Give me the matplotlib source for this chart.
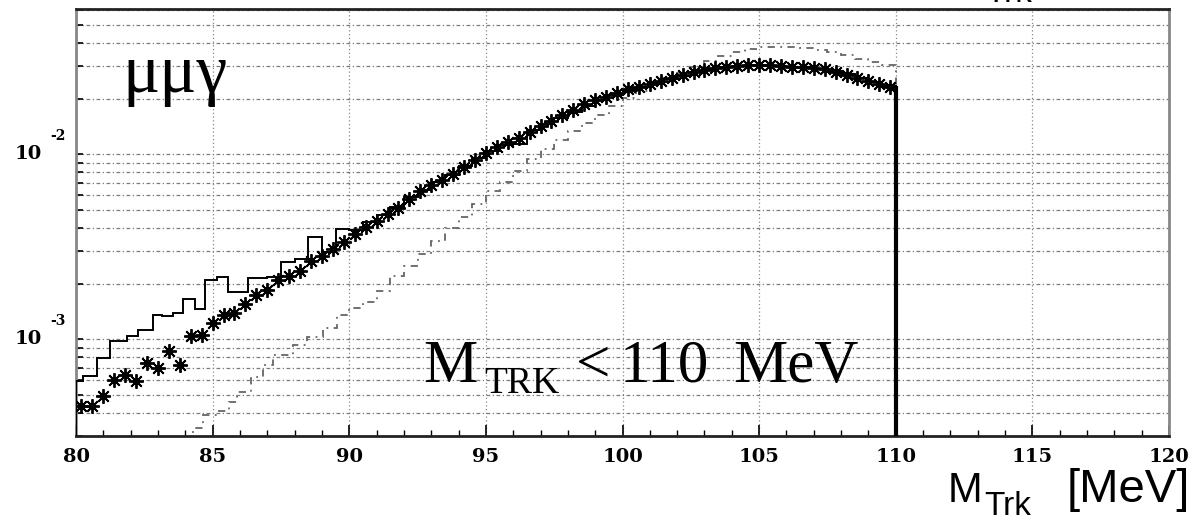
import matplotlib
matplotlib.use("Agg")
import matplotlib.pyplot as plt
import matplotlib.transforms as mtransforms
from matplotlib.ticker import MultipleLocator, NullFormatter, LogLocator
import numpy as np

W, H = 1193, 524

# solid histogram (data)
hist_edges = [80.0, 80.27, 80.76, 81.25, 81.85, 82.28, 82.83, 83.14, 83.56, 83.93,
              84.36, 84.73, 85.16, 85.58, 86.31, 87.0, 87.5, 88.0, 88.5, 89.0,
              89.5, 90.0, 90.5, 91.0, 91.5, 92.0, 92.5, 93.0, 93.5, 94.0,
              94.5, 95.0, 95.5, 96.0, 96.5, 97.0, 97.5, 98.0, 98.5, 99.0,
              99.5, 100.0, 100.5, 101.0, 101.5, 102.0, 102.5, 103.0, 103.5, 104.0,
              104.5, 105.0, 105.5, 106.0, 106.5, 107.0, 107.5, 108.0, 108.5, 109.0,
              109.5, 110.0]
hist_vals = [5.94e-4, 6.32e-4, 7.9e-4, 9.75e-4, 1.04e-3, 1.12e-3, 1.35e-3, 1.33e-3, 1.38e-3,
             1.66e-3, 1.45e-3, 2.08e-3, 2.16e-3, 1.81e-3, 2.15e-3, 2.18e-3, 2.63e-3, 2.72e-3,
             3.58e-3, 2.95e-3, 3.95e-3, 3.9e-3, 4.3e-3, 4.7e-3, 5.2e-3, 5.9e-3,
             6.4e-3, 7.1e-3, 7.7e-3, 8.6e-3, 9.5e-3, 1.04e-2, 1.12e-2, 1.13e-2,
             1.36e-2, 1.46e-2, 1.58e-2, 1.70e-2, 1.82e-2, 1.97e-2, 2.09e-2, 2.20e-2,
             2.32e-2, 2.44e-2, 2.55e-2, 2.66e-2, 2.77e-2, 2.87e-2, 2.95e-2, 2.99e-2,
             3.02e-2, 3.03e-2, 3.01e-2, 2.98e-2, 2.95e-2, 2.90e-2, 2.82e-2, 2.70e-2,
             2.58e-2, 2.45e-2, 2.33e-2]

# simulation points
mc_x = [80.2, 80.6, 81.0, 81.4, 81.8, 82.2, 82.6, 83.0, 83.4, 83.8,
        84.2, 84.6, 85.0, 85.4, 85.8, 86.2, 86.6, 87.0, 87.4, 87.8,
        88.2, 88.6, 89.0, 89.4, 89.8, 90.2, 90.6, 91.0, 91.4, 91.8,
        92.2, 92.6, 93.0, 93.4, 93.8, 94.2, 94.6, 95.0, 95.4, 95.8,
        96.2, 96.6, 97.0, 97.4, 97.8, 98.2, 98.6, 99.0, 99.4, 99.8,
        100.2, 100.6, 101.0, 101.4, 101.8, 102.2, 102.6, 103.0, 103.4, 103.8,
        104.2, 104.6, 105.0, 105.4, 105.8, 106.2, 106.6, 107.0, 107.4, 107.8,
        108.2, 108.6, 109.0, 109.4, 109.8]
mc_y = [4.36e-4, 4.36e-4, 4.94e-4, 6.03e-4, 6.40e-4, 5.94e-4, 7.43e-4, 6.98e-4, 8.61e-4, 7.24e-4,
        1.04e-3, 1.05e-3, 1.22e-3, 1.35e-3, 1.38e-3, 1.56e-3, 1.73e-3, 1.84e-3, 2.08e-3, 2.21e-3,
        2.35e-3, 2.66e-3, 2.83e-3, 3.08e-3, 3.36e-3, 3.72e-3, 4.05e-3, 4.35e-3, 4.75e-3, 5.1e-3,
        5.7e-3, 6.3e-3, 6.8e-3, 7.3e-3, 7.8e-3, 8.5e-3, 9.3e-3, 1.01e-2, 1.10e-2, 1.16e-2,
        1.23e-2, 1.32e-2, 1.42e-2, 1.52e-2, 1.63e-2, 1.74e-2, 1.86e-2, 1.96e-2, 2.05e-2, 2.15e-2,
        2.24e-2, 2.32e-2, 2.41e-2, 2.50e-2, 2.59e-2, 2.68e-2, 2.77e-2, 2.85e-2, 2.92e-2, 2.97e-2,
        3.00e-2, 3.02e-2, 3.03e-2, 3.02e-2, 3.01e-2, 2.98e-2, 2.95e-2, 2.93e-2, 2.88e-2, 2.80e-2,
        2.69e-2, 2.58e-2, 2.48e-2, 2.39e-2, 2.31e-2]

# dashed histogram
alt_edges = [84.3, 84.65, 85.2, 85.6, 85.9, 86.4, 86.85, 87.2, 87.95, 88.45,
             89.05, 89.55, 90.0, 90.5, 91.0, 91.5, 92.0, 92.5, 93.0, 93.5,
             94.0, 94.5, 95.0, 95.5, 96.0, 96.5, 97.0, 97.5, 98.0, 98.5,
             99.0, 99.5, 100.0, 100.5, 101.0, 101.5, 102.0, 102.5, 103.0, 103.5,
             104.0, 104.5, 105.0, 105.5, 106.0, 106.5, 107.0, 107.5, 108.0, 108.5,
             109.0, 109.5, 110.0]
alt_vals = [3.3e-4, 3.9e-4, 4.1e-4, 4.6e-4, 5.19e-4, 6.25e-4, 7.24e-4, 8.2e-4, 9.3e-4,
            1.03e-3, 1.15e-3, 1.35e-3, 1.47e-3, 1.60e-3, 1.83e-3, 2.21e-3, 2.5e-3,
            2.9e-3, 3.4e-3, 4.0e-3, 4.6e-3, 5.4e-3, 6.3e-3, 7.1e-3, 8.1e-3, 9.4e-3,
            1.07e-2, 1.2e-2, 1.33e-2, 1.48e-2, 1.63e-2, 1.82e-2, 2.02e-2, 2.2e-2,
            2.4e-2, 2.58e-2, 2.76e-2, 2.98e-2, 3.2e-2, 3.4e-2, 3.58e-2, 3.7e-2,
            3.78e-2, 3.82e-2, 3.82e-2, 3.75e-2, 3.67e-2, 3.56e-2, 3.42e-2, 3.28e-2,
            3.14e-2, 3.03e-2]

x_ticks = [80, 85, 90, 95, 100, 105, 110, 115, 120]
y_decades = [1e-3, 1e-2]
y_exps = ["-3", "-2"]

fig = plt.figure(figsize=(W / 100, H / 100), dpi=100)
ax = fig.add_axes([76 / W, 1 - 436 / H, (1169 - 76) / W, (436 - 9) / H])

ax.set_xlim(80, 120)
ax.set_yscale("log")
ax.set_ylim(3.0e-4, 6.1e-2)
ax.set_axisbelow(True)

ax.stairs(alt_vals, alt_edges, color="#666666", lw=1.3, ls=(0, (4, 3, 1, 3)), zorder=2)
ax.stairs(hist_vals, hist_edges, baseline=1e-6, color="black", lw=1.4, zorder=3)
# cut-off edge of the histogram
ax.vlines(hist_edges[-1], 1e-6, hist_vals[-1], color="black", lw=3, zorder=3)
ax.plot(mc_x, mc_y, ls="none", marker=(8, 2, 0), ms=10.5, mew=1.35, color="black", zorder=4)

# grid
ax.yaxis.set_major_locator(LogLocator(base=10))
ax.yaxis.set_minor_locator(LogLocator(base=10, subs=np.arange(2, 10)))
ax.yaxis.set_major_formatter(NullFormatter())
ax.yaxis.set_minor_formatter(NullFormatter())
ax.yaxis.grid(True, which="both", ls=(0, (3, 2, 1, 2)), color="#7a7a7a", lw=0.9)
ax.set_xticks(x_ticks)
ax.xaxis.set_minor_locator(MultipleLocator(1))
ax.xaxis.grid(True, which="major", ls=(0, (1, 2)), color="#888888", lw=0.9)

ax.tick_params(axis="x", which="major", direction="in", length=8, width=1.2, pad=9,
               labelsize=14)
ax.tick_params(axis="x", which="minor", direction="in", length=4, width=1)
ax.tick_params(axis="y", which="both", direction="in", length=5, width=1.2)
for lbl in ax.get_xticklabels():
    lbl.set_fontfamily("DejaVu Serif")
    lbl.set_fontweight("bold")

for side in ["top", "bottom"]:
    ax.spines[side].set_color("#222222")
    ax.spines[side].set_linewidth(2)
for side in ["left", "right"]:
    ax.spines[side].set_color("#888888")
    ax.spines[side].set_linewidth(2)

# decade labels on the left
trans = mtransforms.blended_transform_factory(fig.transFigure, ax.transData)
for v, e in zip(y_decades, y_exps):
    ax.text(42 / W, v, "10", transform=trans, ha="right", va="center",
            fontsize=14, fontweight="bold", family="DejaVu Serif")
    t = mtransforms.offset_copy(trans, fig=fig, x=0, y=18, units="dots")
    ax.text(50 / W, v, e, transform=t, ha="left", va="center",
            fontsize=10, fontweight="bold", family="DejaVu Serif")


def ftext(x, y, s, **kw):
    fig.text(x / W, 1 - y / H, s, va="baseline", **kw)


serif = "Liberation Serif"
ftext(122, 92, "μμγ", fontsize=50, family=serif)
ftext(423, 382, "M", fontsize=44, family=serif)
ftext(484, 393, "TRK", fontsize=27, family=serif)
ftext(576, 382, "<", fontsize=44, family=serif)
ftext(620, 382, "110", fontsize=44, family=serif)
ftext(733, 382, "MeV", fontsize=44, family=serif)

sans = "Liberation Sans"
ftext(948, 502, "M", fontsize=30, family=sans)
ftext(984, 515, "Trk", fontsize=24, family=sans)
fig.text(1190 / W, 1 - 502 / H, "[MeV]", ha="right", va="baseline", fontsize=34, family=sans)
ftext(985, 2, "Trk", fontsize=24, family=sans)

fig.savefig("out.png", dpi=100)
